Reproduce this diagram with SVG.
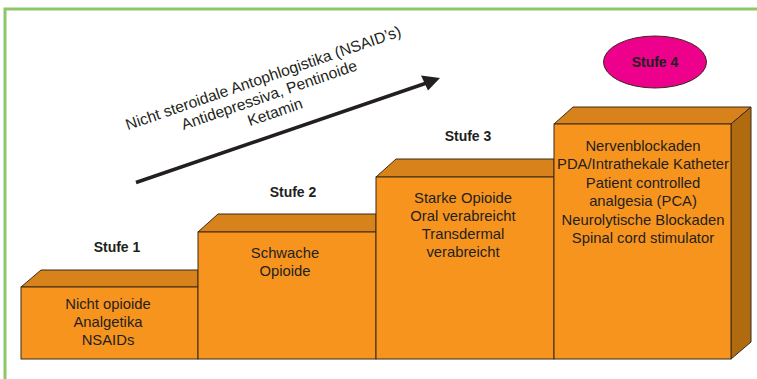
<svg xmlns="http://www.w3.org/2000/svg" width="757" height="379" viewBox="0 0 757 379">
<style>
.front{fill:#f7941d;stroke:#3b2a1a;stroke-width:1}
.top{fill:#d8821b;stroke:#3b2a1a;stroke-width:1}
.side{fill:#b06a10;stroke:#3b2a1a;stroke-width:1}
text{font-family:"Liberation Sans",Arial,sans-serif;fill:#231f20}
.bt{font-size:14.8px;text-anchor:middle}
.lab{font-size:14px;font-weight:bold;text-anchor:middle}
.rt{font-size:15.6px;text-anchor:middle}
</style>
<rect x="0" y="0" width="757" height="379" fill="#ffffff"/>
<rect x="5" y="9" width="760" height="380" fill="none" stroke="#8cc866" stroke-width="3"/>
<g id="connectors">
<line x1="136" y1="182.5" x2="428" y2="82.5" stroke="#231f20" stroke-width="3.5"/>
<polygon points="440,78 421,75.5 428,90.5" fill="#231f20"/>
</g>
<g id="arrow-label">
<g transform="translate(265,83) rotate(-19)">
<text class="rt" x="0" y="0">Nicht steroidale Antophlogistika (NSAID’s)</text>
<text class="rt" x="0" y="18">Antidepressiva, Pentinoide</text>
<text class="rt" x="0" y="36">Ketamin</text>
</g>
</g>
<g id="stufe1">
<polygon class="top" points="21,287 41,270 198,270 198,287"/>
<rect class="front" x="21" y="287" width="177" height="72"/>
<text class="lab" x="117" y="252">Stufe 1</text>
<text class="bt" x="108" y="309">Nicht opioide</text>
<text class="bt" x="108" y="327">Analgetika</text>
<text class="bt" x="108" y="345">NSAIDs</text>
</g>
<g id="stufe2">
<polygon class="top" points="198,232 218,214 376,214 376,232"/>
<rect class="front" x="198" y="232" width="178" height="127"/>
<text class="lab" x="293" y="197">Stufe 2</text>
<text class="bt" x="285" y="258">Schwache</text>
<text class="bt" x="285" y="276">Opioide</text>
</g>
<g id="stufe3">
<polygon class="top" points="376,177 396,159 554,159 554,177"/>
<rect class="front" x="376" y="177" width="178" height="182"/>
<text class="lab" x="468" y="141">Stufe 3</text>
<text class="bt" x="463" y="203">Starke Opioide</text>
<text class="bt" x="463" y="221">Oral verabreicht</text>
<text class="bt" x="463" y="239">Transdermal</text>
<text class="bt" x="463" y="257">verabreicht</text>
</g>
<g id="stufe4">
<polygon class="top" points="554,124 573,107 751,107 731,124"/>
<polygon class="side" points="731,124 751,107 751,342 731,359"/>
<rect class="front" x="554" y="124" width="177" height="235"/>
<text class="bt" x="643" y="151">Nervenblockaden</text>
<text class="bt" x="643" y="169">PDA/Intrathekale Katheter</text>
<text class="bt" x="643" y="187.5">Patient controlled</text>
<text class="bt" x="643" y="206">analgesia (PCA)</text>
<text class="bt" x="643" y="224.5">Neurolytische Blockaden</text>
<text class="bt" x="643" y="243">Spinal cord stimulator</text>
</g>
<g id="stufe4-label">
<ellipse cx="655" cy="62" rx="51.5" ry="26" fill="#ec008c" stroke="#3b2a1a" stroke-width="1"/>
<text class="lab" x="655" y="67">Stufe 4</text>
</g>
</svg>
